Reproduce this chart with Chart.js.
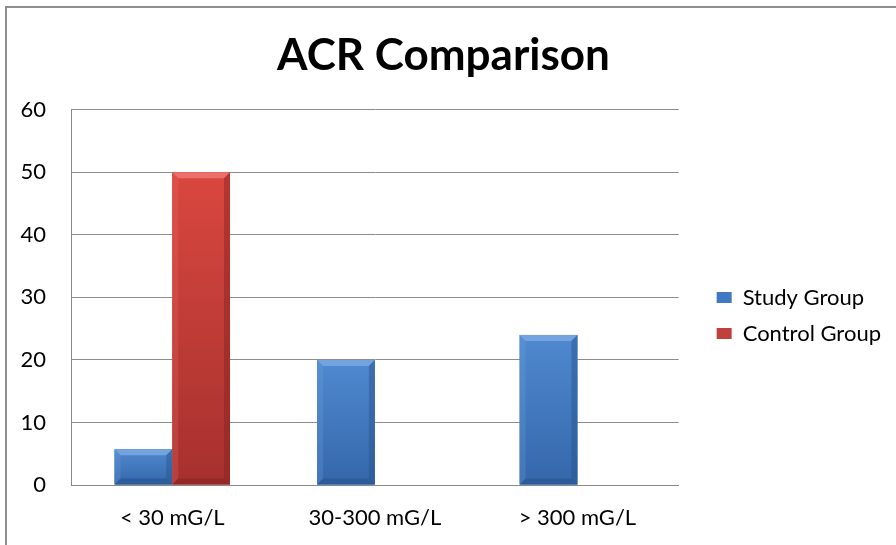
<!DOCTYPE html>
<html>
<head>
<meta charset="utf-8">
<script src="https://cdn.jsdelivr.net/npm/chart.js@4.4.0/dist/chart.umd.min.js"></script>
<style>
  html, body { margin: 0; padding: 0; background: #fff; overflow: hidden; }
  #wrap { position: relative; width: 896px; height: 545px; }
  #frame { position: absolute; left: 5px; top: 6px; right: -10px; bottom: -10px; border-left: 2px solid #8e8e8e; border-top: 2px solid #8e8e8e; }
</style>
</head>
<body>
<div id="wrap"><div id="frame"></div><canvas id="chart"></canvas></div>
<script>
const categories = ['< 30 mG/L', '30-300 mG/L', '> 300 mG/L'];
const studyGroup = [5.7, 20, 24];
const controlGroup = [50, 0, 0];
const yTicks = [0, 10, 20, 30, 40, 50, 60];

const palette = {
    blue: { top: '#5089d0', bottom: '#3467aa', light: '#74a4df', dark: '#27528a' },
    red: { top: '#d9473f', bottom: '#a6302e', light: '#ec6f69', dark: '#842422' }
};

// bevel look like the old office bars
const bevelBars = {
    id: 'bevelBars',
    afterDatasetsDraw(chart) {
        const ctx = chart.ctx;
        chart.data.datasets.forEach((ds, i) => {
            const meta = chart.getDatasetMeta(i);
            const c = palette[ds.tone];
            meta.data.forEach(bar => {
                const h = bar.base - bar.y;
                if (h <= 0.5) return;
                const l = bar.x - bar.width / 2, r = bar.x + bar.width / 2;
                const t = bar.y, b = bar.base;
                const e = Math.min(6, h / 2);
                ctx.save();
                const g = ctx.createLinearGradient(0, t, 0, b);
                g.addColorStop(0, c.top);
                g.addColorStop(1, c.bottom);
                ctx.fillStyle = g;
                ctx.fillRect(l, t, r - l, b - t);
                // top bevel
                ctx.fillStyle = c.light;
                ctx.beginPath();
                ctx.moveTo(l, t); ctx.lineTo(r, t); ctx.lineTo(r - e, t + e); ctx.lineTo(l + e, t + e);
                ctx.closePath(); ctx.fill();
                // left bevel
                ctx.globalAlpha = 0.25;
                ctx.fillStyle = c.light;
                ctx.beginPath();
                ctx.moveTo(l, t); ctx.lineTo(l + e, t + e); ctx.lineTo(l + e, b - e); ctx.lineTo(l, b);
                ctx.closePath(); ctx.fill();
                // right bevel
                ctx.globalAlpha = 0.45;
                ctx.fillStyle = c.dark;
                ctx.beginPath();
                ctx.moveTo(r, t); ctx.lineTo(r - e, t + e); ctx.lineTo(r - e, b - e); ctx.lineTo(r, b);
                ctx.closePath(); ctx.fill();
                // bottom bevel
                ctx.globalAlpha = 0.55;
                ctx.beginPath();
                ctx.moveTo(l, b); ctx.lineTo(l + e, b - e); ctx.lineTo(r - e, b - e); ctx.lineTo(r, b);
                ctx.closePath(); ctx.fill();
                ctx.restore();
            });
        });
    }
};

// push the legend a bit away from the plot, like excel does
const legendShift = {
    id: 'legendShift',
    afterLayout(chart) {
        const lg = chart.legend;
        if (!lg) return;
        lg.left += 24; lg.right += 24;
        lg.top += 50; lg.bottom += 50;
    }
};

const ctx = document.getElementById('chart').getContext('2d');
new Chart(ctx, {
    type: 'bar',
    data: {
        labels: categories,
        datasets: [
            {
                label: 'Study Group',
                data: studyGroup,
                tone: 'blue',
                backgroundColor: '#3f78c3',
                borderWidth: 0
            },
            {
                label: 'Control Group',
                data: controlGroup,
                tone: 'red',
                backgroundColor: '#c0403d',
                borderWidth: 0
            }
        ]
    },
    options: {
        responsive: true,
        maintainAspectRatio: false,
        animation: false,
        layout: { padding: { left: 20, right: 29, top: 0, bottom: 14 } },
        datasets: { bar: { categoryPercentage: 0.57, barPercentage: 1.0 } },
        plugins: {
            title: {
                display: true,
                text: 'ACR Comparison',
                color: '#000',
                font: { family: 'Lato, "Open Sans", sans-serif', size: 44, weight: 'bold' },
                padding: { top: 29, bottom: 28 }
            },
            legend: {
                position: 'right',
                labels: {
                    boxWidth: 15,
                    boxHeight: 11,
                    padding: 14,
                    color: '#000',
                    font: { family: 'Lato, "Open Sans", sans-serif', size: 22 }
                }
            },
            tooltip: { enabled: false }
        },
        scales: {
            x: {
                afterFit(axis) { axis.height = 46; },
                grid: { display: false, drawTicks: false },
                border: { color: '#888', width: 1 },
                ticks: {
                    color: '#000',
                    padding: 20,
                    font: { family: 'Lato, "Open Sans", sans-serif', size: 22 }
                }
            },
            y: {
                min: yTicks[0],
                max: yTicks[yTicks.length - 1],
                afterFit(axis) { axis.width = 51; },
                afterBuildTicks(axis) { axis.ticks = yTicks.map(v => ({ value: v })); },
                grid: { color: '#8c8c8c', lineWidth: 1, drawTicks: false },
                border: { color: '#888', width: 1 },
                ticks: {
                    color: '#000',
                    padding: 25,
                    font: { family: 'Lato, "Open Sans", sans-serif', size: 22 }
                }
            }
        }
    },
    plugins: [bevelBars, legendShift]
});
</script>
</body>
</html>
